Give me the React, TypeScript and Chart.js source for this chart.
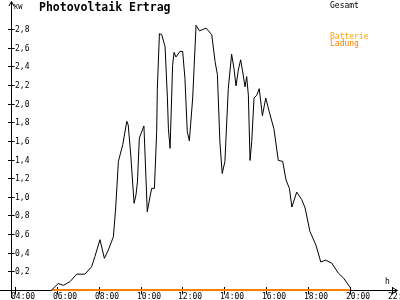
import { useEffect, useRef } from "react";
import { Chart, registerables } from "chart.js";

Chart.register(...registerables);

// Time of day (hours) and total output (kW)
const hours = [
  5.75, 6.07, 6.31, 6.63, 6.95, 7.34, 7.66, 7.82, 8.06, 8.27, 8.46, 8.7, 8.81, 8.94, 9.02, 9.15,
  9.34, 9.41, 9.53, 9.69, 9.78, 9.85, 9.94, 10.16, 10.32, 10.45, 10.53, 10.66, 10.77, 10.8, 10.9,
  11.01, 11.17, 11.28, 11.33, 11.41, 11.53, 11.6, 11.69, 11.88, 12.01, 12.12, 12.23, 12.33, 12.49,
  12.65, 12.81, 13.13, 13.4, 13.56, 13.67, 13.79, 13.9, 14.03, 14.19, 14.35, 14.46, 14.56, 14.67,
  14.78, 14.88, 14.99, 15.07, 15.15, 15.23, 15.31, 15.42, 15.55, 15.67, 15.82, 15.98, 16.15, 16.37,
  16.58, 16.79, 16.95, 17.11, 17.23, 17.46, 17.7, 17.86, 18.09, 18.38, 18.61, 18.83, 19.13, 19.45,
  19.69, 20.04,
];
const gesamt = [
  0, 0.07, 0.05, 0.09, 0.17, 0.17, 0.25, 0.36, 0.54, 0.34, 0.43, 0.57, 0.88, 1.38, 1.45, 1.56,
  1.81, 1.77, 1.45, 0.93, 1.02, 1.16, 1.63, 1.76, 0.84, 1.0, 1.09, 1.09, 1.7, 2.15, 2.75,
  2.74, 2.61, 2.07, 1.73, 1.52, 2.41, 2.55, 2.5, 2.56, 2.56, 2.27, 1.7, 1.6, 2.06,
  2.84, 2.78, 2.81, 2.74, 2.45, 2.31, 1.59, 1.25, 1.38, 2.16, 2.53, 2.38, 2.19, 2.36,
  2.47, 2.34, 2.18, 2.29, 2.09, 1.39, 1.59, 2.06, 2.09, 2.16, 1.87, 2.06, 1.91, 1.73,
  1.39, 1.38, 1.18, 1.09, 0.89, 1.05, 0.97, 0.88, 0.63, 0.48, 0.3, 0.32, 0.29, 0.18,
  0.13, 0.02,
];

// Battery charge (kW)
const ladungHours = [5.75, 20.0];
const ladungValues = [0, 0];

const xTickHours = [4, 6, 8, 10, 12, 14, 16, 18, 20, 22];
const xTickLabels = ["04:00", "06:00", "08:00", "10:00", "12:00", "14:00", "16:00", "18:00", "20:00", "22:00"];
const yTickValues = [0.2, 0.4, 0.6, 0.8, 1.0, 1.2, 1.4, 1.6, 1.8, 2.0, 2.2, 2.4, 2.6, 2.8];
const yTickLabels = ["0,2", "0,4", "0,6", "0,8", "1,0", "1,2", "1,4", "1,6", "1,8", "2,0", "2,2", "2,4", "2,6", "2,8"];

const MONO = '"DejaVu Sans Mono", monospace';

const axesPlugin = {
  id: "pvAxes",
  beforeDatasetsDraw(chart: any) {
    const { ctx, scales } = chart;
    const x = scales.x;
    const y = scales.y;
    const ax = Math.round(x.getPixelForValue(x.min)) + 0.5;
    const ay = Math.round(y.getPixelForValue(0)) + 0.5;
    ctx.save();
    ctx.strokeStyle = "#000";
    ctx.lineWidth = 1;
    ctx.beginPath();
    // y axis + arrow
    ctx.moveTo(ax, 2);
    ctx.lineTo(ax, 298);
    ctx.moveTo(ax - 2.5, 6);
    ctx.lineTo(ax, 1.5);
    ctx.lineTo(ax + 2.5, 6);
    // x axis + arrow
    ctx.moveTo(0, ay);
    ctx.lineTo(397, ay);
    ctx.moveTo(393, ay - 2.5);
    ctx.lineTo(397.5, ay);
    ctx.lineTo(393, ay + 2.5);
    // y ticks
    yTickValues.forEach((v) => {
      const py = Math.round(y.getPixelForValue(v)) + 0.5;
      ctx.moveTo(ax - 3.5, py);
      ctx.lineTo(ax + 3, py);
    });
    // x ticks
    xTickHours.forEach((h) => {
      const px = Math.round(x.getPixelForValue(h)) + 0.5;
      ctx.moveTo(px, ay - 3.5);
      ctx.lineTo(px, ay + 4);
    });
    ctx.stroke();
    ctx.restore();
  },
  afterDraw(chart: any) {
    const { ctx, scales } = chart;
    const x = scales.x;
    const y = scales.y;
    const ax = x.getPixelForValue(x.min);
    const ay = y.getPixelForValue(0);
    ctx.save();
    ctx.fillStyle = "#000";
    ctx.font = `8px ${MONO}`;
    ctx.textAlign = "left";
    ctx.textBaseline = "middle";
    yTickValues.forEach((v, i) => {
      ctx.fillText(yTickLabels[i], ax + 4, Math.round(y.getPixelForValue(v)) + 0.5);
    });
    ctx.textBaseline = "alphabetic";
    xTickHours.forEach((h, i) => {
      ctx.fillText(xTickLabels[i], Math.round(x.getPixelForValue(h)) - 4, ay + 8.5);
    });
    ctx.fillText("h", 385, ay - 6);
    ctx.font = `7px ${MONO}`;
    ctx.fillText("KW", ax + 3, 9);
    ctx.font = `bold 11.5px ${MONO}`;
    ctx.fillText("Photovoltaik Ertrag", 39, 11);
    ctx.font = `8px ${MONO}`;
    ctx.fillText("Gesamt", 330, 7.5);
    ctx.fillStyle = "#FFA500";
    ctx.fillText("Batterie", 330, 38.5);
    ctx.fillStyle = "#FF8000";
    ctx.fillText("Ladung", 330, 45.5);
    ctx.restore();
  },
};

export default function App() {
  const ref = useRef<HTMLCanvasElement | null>(null);
  useEffect(() => {
    document.body.style.margin = "0";
    const canvas = ref.current;
    if (!canvas) return;
    const pxPerHour = 20.93;
    const chart = new Chart(canvas, {
      type: "line",
      data: {
        datasets: [
          {
            label: "Batterie Ladung",
            data: ladungHours.map((h, i) => ({ x: h, y: ladungValues[i] })),
            borderColor: "#FF8000",
            borderWidth: 2,
            pointRadius: 0,
            clip: false,
            order: 2,
          } as any,
          {
            label: "Gesamt",
            data: hours.map((h, i) => ({ x: h, y: gesamt[i] })),
            borderColor: "#000",
            borderWidth: 1,
            pointRadius: 0,
            tension: 0,
            clip: false,
            order: 1,
          } as any,
        ],
      },
      options: {
        responsive: false,
        devicePixelRatio: 1,
        animation: false,
        events: [],
        layout: { padding: { left: 11, right: 5, top: 3, bottom: 10 } },
        plugins: { legend: { display: false }, tooltip: { enabled: false } },
        scales: {
          x: { type: "linear", display: false, min: 4 - 4 / pxPerHour, max: 4 + 380 / pxPerHour },
          y: { type: "linear", display: false, min: 0, max: 287 / 93.2 },
        },
      },
      plugins: [axesPlugin],
    });
    return () => chart.destroy();
  }, []);
  return (
    <div style={{ position: "absolute", left: 0, top: 0, width: 400, height: 300, background: "#fff" }}>
      <canvas ref={ref} width={400} height={300} />
    </div>
  );
}
